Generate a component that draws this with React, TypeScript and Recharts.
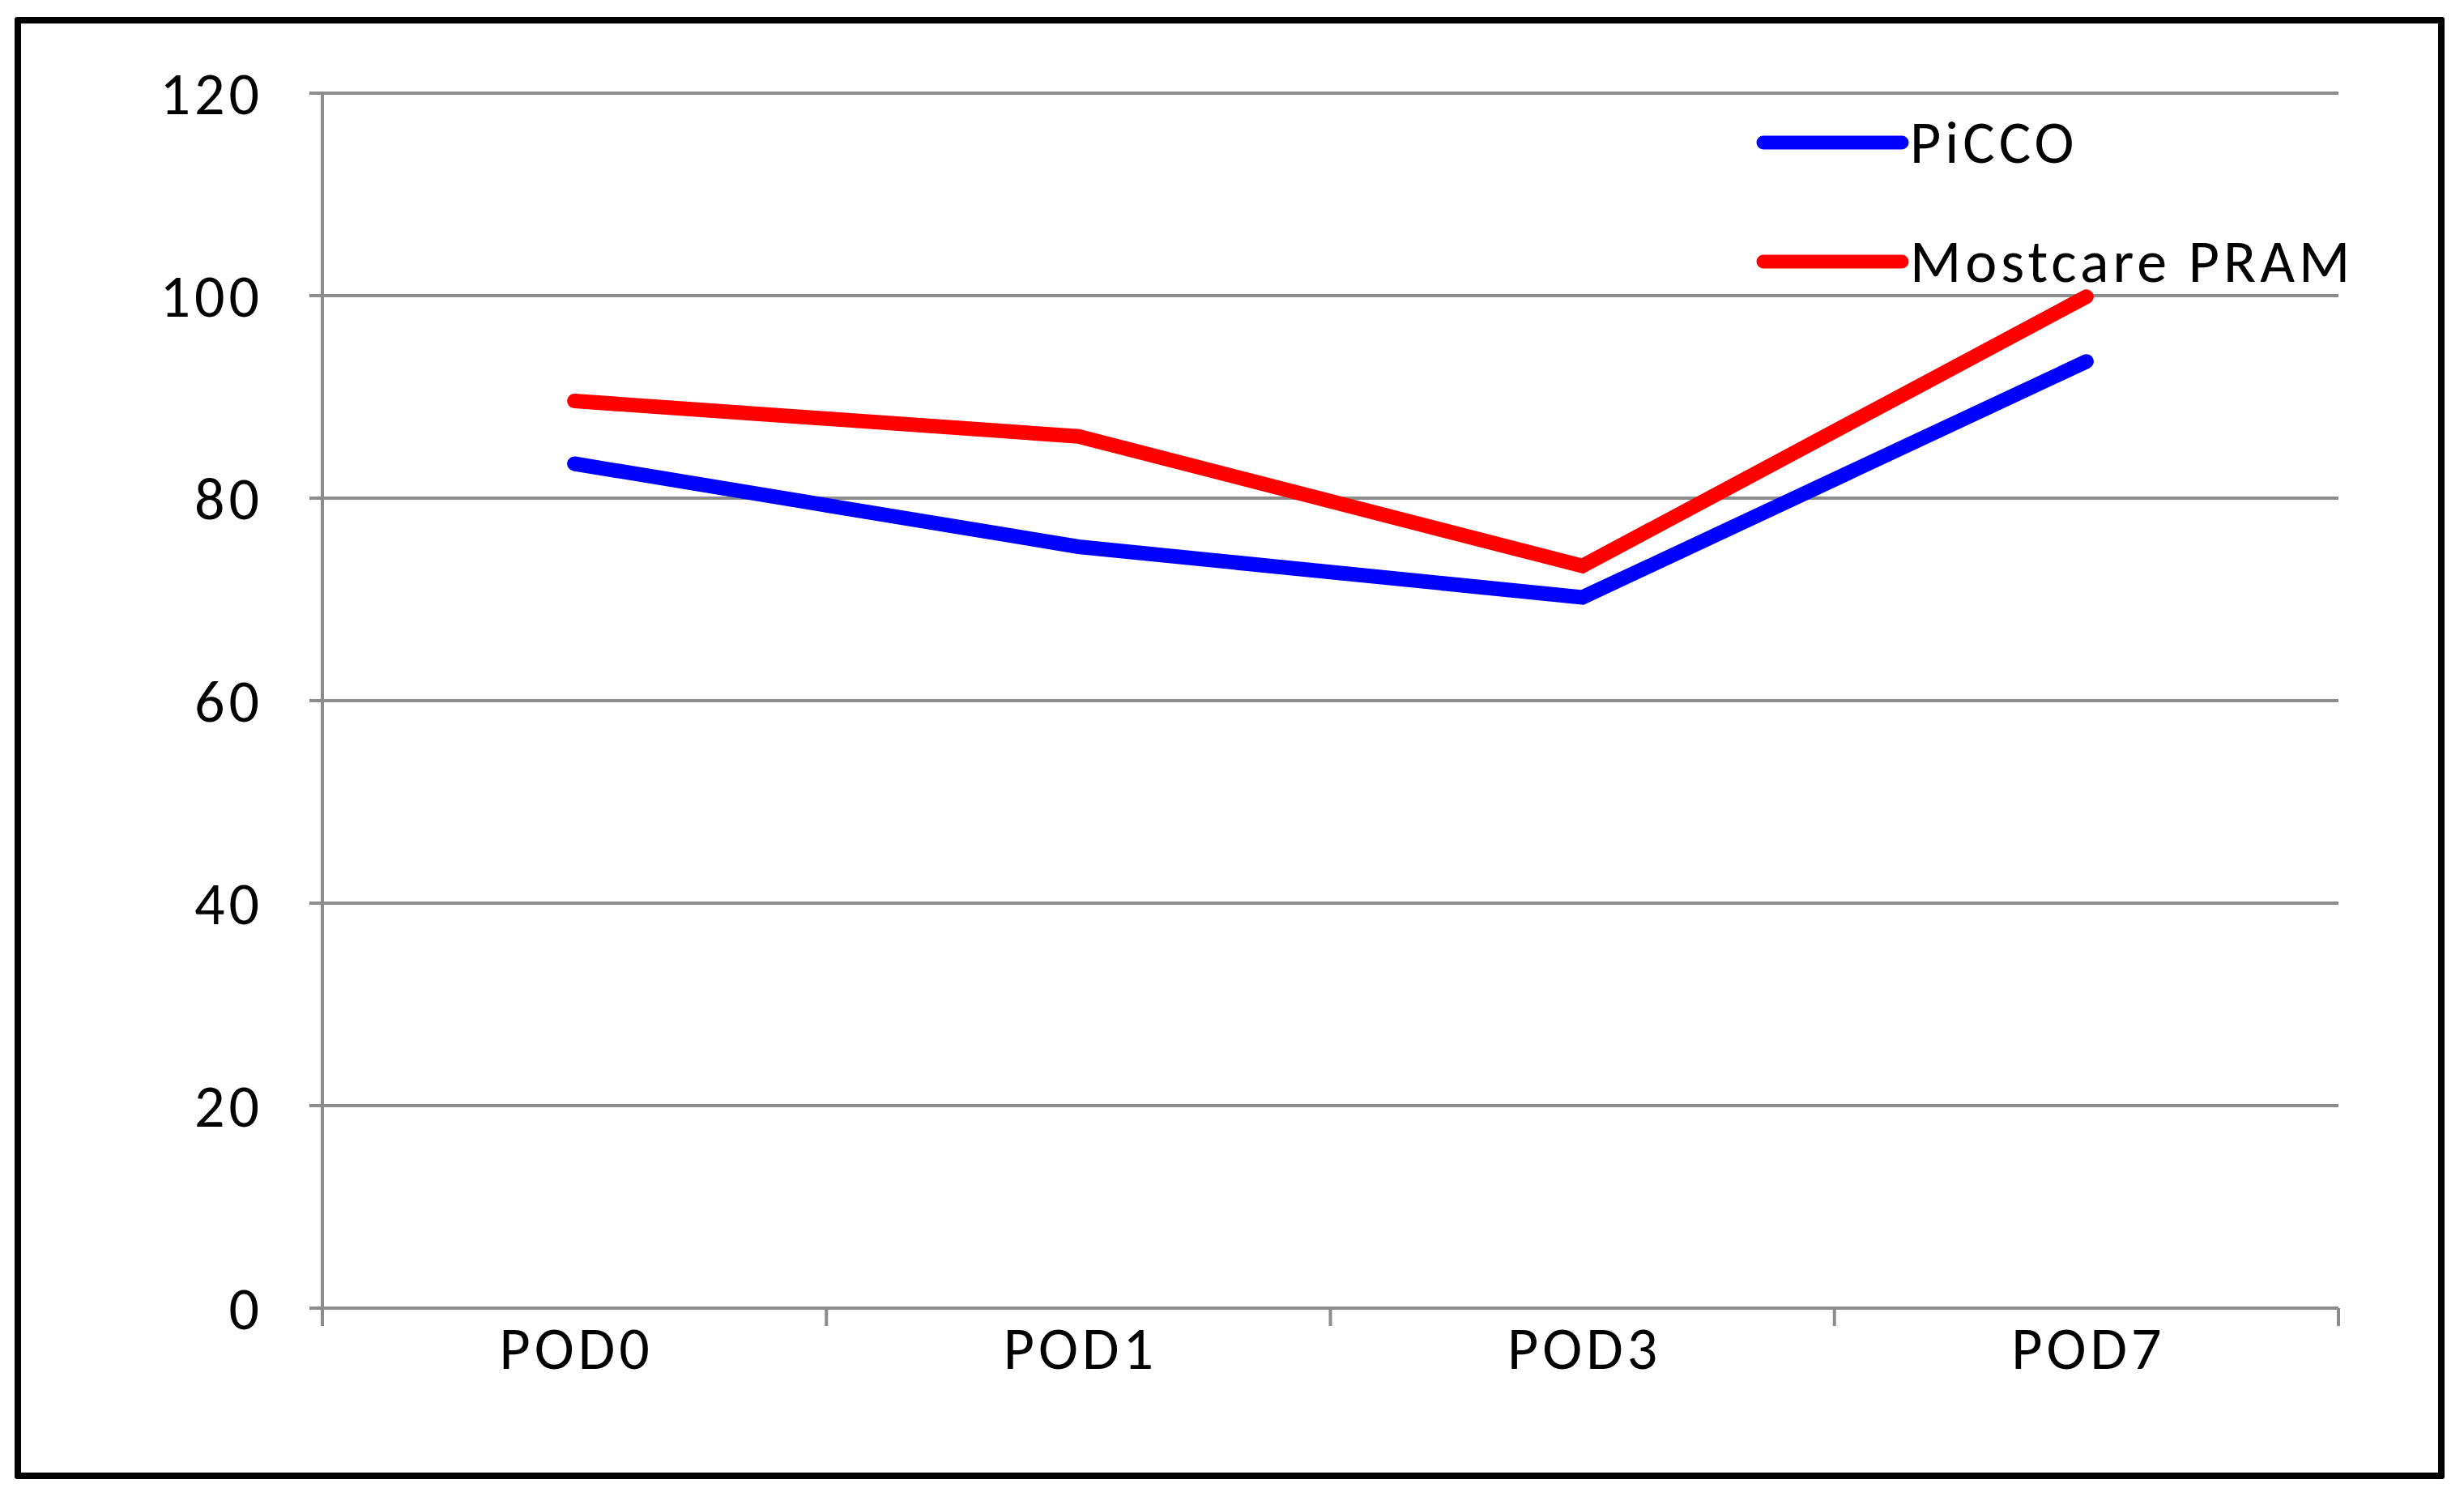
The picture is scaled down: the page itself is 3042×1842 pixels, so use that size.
import React from 'react';
import { LineChart, Line, XAxis, YAxis, CartesianGrid, Legend } from 'recharts';

// values
const categories = ['POD0', 'POD1', 'POD3', 'POD7'];
const picco = [83.4, 75.2, 70.2, 93.5];
const mostcare = [89.6, 86.1, 73.3, 99.9];
const yTicks = [0, 20, 40, 60, 80, 100, 120];

const data = categories.map((pod, i) => ({ pod, picco: picco[i], mostcare: mostcare[i] }));

const W = 3042;
const H = 1842;
const PLOT_LEFT = 398;
const PLOT_RIGHT = 2887;
const PLOT_TOP = 115;
const PLOT_BOTTOM = 1615;
const BAND = (PLOT_RIGHT - PLOT_LEFT) / categories.length;

const GRID = '#8c8c8c';
const FONT = 'Carlito, Calibri, Lato, sans-serif';
const FONT_SIZE = 74;
const SPACING = 5;
const X_TICK = 22;

const XTick = (props: any) => {
  const { x, y, payload, index } = props;
  const axisY = y - X_TICK;
  const half = BAND / 2;
  return (
    <g>
      <line x1={x - half} x2={x - half} y1={axisY} y2={axisY + X_TICK} stroke={GRID} strokeWidth={4} />
      {index === categories.length - 1 && (
        <line x1={x + half} x2={x + half} y1={axisY} y2={axisY + X_TICK} stroke={GRID} strokeWidth={4} />
      )}
      <text
        x={x + SPACING / 2}
        y={y}
        dy="0.71em"
        textAnchor="middle"
        fill="#000"
        fontSize={FONT_SIZE}
        fontFamily={FONT}
        letterSpacing={SPACING}
      >
        {payload.value}
      </text>
    </g>
  );
};

const LegendContent = () => {
  const items = [
    { name: 'PiCCO', color: '#0000ff' },
    { name: 'Mostcare PRAM', color: '#ff0000' },
  ];
  return (
    <div>
      {items.map((it) => (
        <div key={it.name} style={{ display: 'flex', alignItems: 'center', height: 147 }}>
          <svg width={190} height={20}>
            <line x1={9} x2={180} y1={10} y2={10} stroke={it.color} strokeWidth={17} strokeLinecap="round" />
          </svg>
          <span
            style={{ fontFamily: FONT, fontSize: FONT_SIZE, color: '#000', lineHeight: 1, letterSpacing: SPACING }}
          >
            {it.name}
          </span>
        </div>
      ))}
    </div>
  );
};

export default function App() {
  return (
    <div style={{ position: 'absolute', left: 0, top: 0, width: W, height: H, background: '#fff' }}>
      <div
        style={{
          position: 'absolute',
          left: 18,
          top: 21,
          width: 3018 - 18,
          height: 1826 - 21,
          border: '8px solid #000',
          boxSizing: 'border-box',
          borderRadius: 3,
        }}
      />
      <LineChart
        width={W}
        height={H}
        data={data}
        margin={{ top: PLOT_TOP, right: W - PLOT_RIGHT, bottom: 107, left: 0 }}
      >
        <CartesianGrid vertical={false} stroke={GRID} strokeWidth={4} />
        <XAxis
          dataKey="pod"
          height={H - PLOT_BOTTOM - 107}
          padding={{ left: BAND / 2, right: BAND / 2 }}
          axisLine={{ stroke: GRID, strokeWidth: 4 }}
          tickLine={false}
          tickSize={X_TICK}
          tickMargin={0}
          tick={<XTick />}
          interval={0}
        />
        <YAxis
          width={PLOT_LEFT}
          domain={[0, 120]}
          ticks={yTicks}
          axisLine={{ stroke: GRID, strokeWidth: 4 }}
          tickLine={{ stroke: GRID, strokeWidth: 4 }}
          tickSize={16}
          tickMargin={57}
          tick={{ fill: '#000', fontSize: FONT_SIZE, fontFamily: FONT, letterSpacing: SPACING }}
        />
        <Legend
          layout="vertical"
          align="center"
          verticalAlign="middle"
          content={<LegendContent />}
          wrapperStyle={{ left: 2168, top: 102, width: 'auto', height: 'auto' }}
        />
        <Line
          dataKey="picco"
          name="PiCCO"
          stroke="#0000ff"
          strokeWidth={18}
          strokeLinecap="round"
          dot={false}
          activeDot={false}
          isAnimationActive={false}
        />
        <Line
          dataKey="mostcare"
          name="Mostcare PRAM"
          stroke="#ff0000"
          strokeWidth={18}
          strokeLinecap="round"
          dot={false}
          activeDot={false}
          isAnimationActive={false}
        />
      </LineChart>
    </div>
  );
}
